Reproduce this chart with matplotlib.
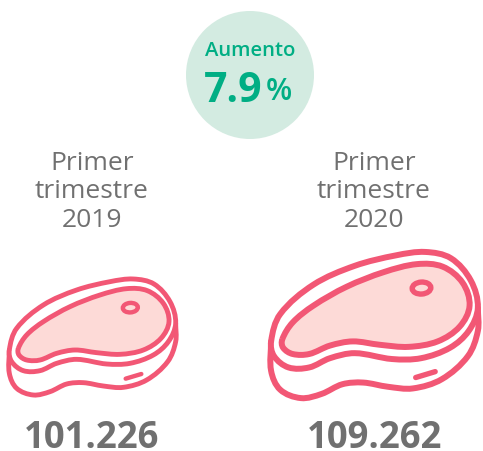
import numpy as np
import matplotlib
matplotlib.use("Agg")
import matplotlib.pyplot as plt
from matplotlib.path import Path
from matplotlib.patches import PathPatch, Ellipse, Circle

periods = ["Primer\ntrimestre\n2019", "Primer\ntrimestre\n2020"]
totals = ["101.226", "109.262"]
badge_title = "Aumento"
badge_value = "7.9"
badge_unit = "%"

# icon outline (px)
outer = np.array([(28,270),(50,205),(130,135),(230,90),(330,65),(400,57),(462,72),(510,125),(527,190),
                  (505,245),(460,285),(390,310),(320,312),(230,298),(170,310),(120,332),(70,332),(35,305)]) / 3
inner = np.array([(55,265),(80,225),(130,185),(210,140),(300,105),(380,86),(442,92),(490,130),(507,185),
                  (483,235),(430,270),(360,283),(290,278),(225,270),(170,280),(120,300),(80,300),(57,285)]) / 3
lower = np.array([(28,270),(28,340),(50,385),(100,405),(150,395),(200,372),(250,368),(310,378),(370,382),
                  (440,360),(503,305),(527,245),(527,190)]) / 3

pink = "#f25775"
flesh = "#fddad7"
grey = "#707070"
green = "#00ae84"


def smooth(pts, closed=True):
    # bezier through the points, handles scaled to the segment length
    n = len(pts)
    verts = [pts[0]]
    codes = [Path.MOVETO]
    last = n if closed else n - 1
    for i in range(last):
        if closed:
            p0, p1, p2, p3 = pts[(i-1) % n], pts[i], pts[(i+1) % n], pts[(i+2) % n]
        else:
            p0, p1, p2, p3 = pts[max(i-1, 0)], pts[i], pts[i+1], pts[min(i+2, n-1)]
        d = np.linalg.norm(p2 - p1)
        t1 = (p2-p0) / np.linalg.norm(p2-p0)
        t2 = (p3-p1) / np.linalg.norm(p3-p1)
        verts += [p1 + t1*d/3, p2 - t2*d/3, p2]
        codes += [Path.CURVE4] * 3
    return Path(verts, codes)


def steak(ax, x0, y0, sx, sy, lw):
    def place(p):
        return p * [sx, sy] + [x0, y0]
    ax.add_patch(PathPatch(smooth(place(lower), closed=False), fc="white", ec=pink, lw=lw, zorder=2, capstyle="round"))
    ax.add_patch(PathPatch(smooth(place(outer)), fc="white", ec=pink, lw=lw, zorder=3))
    ax.add_patch(PathPatch(smooth(place(inner)), fc=flesh, ec=pink, lw=lw, zorder=4))
    c = place(np.array([391/3, 143/3]))
    ax.add_patch(Ellipse(c, 15*sx, 9.5*sy, angle=-4, fc=flesh, ec=pink, lw=lw*0.9, zorder=5))
    d = place(np.array([(377/3, 356/3), (424/3, 342/3)]))
    ax.plot(d[:, 0], d[:, 1], color=pink, lw=lw*0.9, solid_capstyle="round", zorder=5)


fig = plt.figure(figsize=(4.83, 4.51), dpi=100)
ax = fig.add_axes([0, 0, 1, 1])
ax.set_xlim(0, 483)
ax.set_ylim(451, 0)
ax.axis("off")

ax.add_patch(Circle((250, 75), 64, fc="#d3ebe1", ec="none"))
ax.text(250, 51, badge_title, color=green, fontsize=14.6, fontweight="semibold", family="Open Sans", ha="center", va="center")
ax.text(233, 91, badge_value, color=green, fontsize=29.5, fontweight="bold", family="Open Sans", ha="center", va="center")
ax.text(279, 92, badge_unit, color=green, fontsize=22, fontweight="semibold", family="Open Sans", ha="center", va="center")

ax.text(92, 192, periods[0], color=grey, fontsize=19, family="Open Sans", ha="center", va="center", linespacing=1.18)
ax.text(374, 192, periods[1], color=grey, fontsize=19, family="Open Sans", ha="center", va="center", linespacing=1.18)

steak(ax, 0, 260, 1, 1, 3.5)
steak(ax, 259.5, 228, 1.243, 1.26, 4.3)

ax.text(92, 448, totals[0], color=grey, fontsize=26.3, fontweight="bold", family="Open Sans", ha="center", va="baseline")
ax.text(375, 448, totals[1], color=grey, fontsize=26.3, fontweight="bold", family="Open Sans", ha="center", va="baseline")

fig.savefig("out.png", dpi=100)
